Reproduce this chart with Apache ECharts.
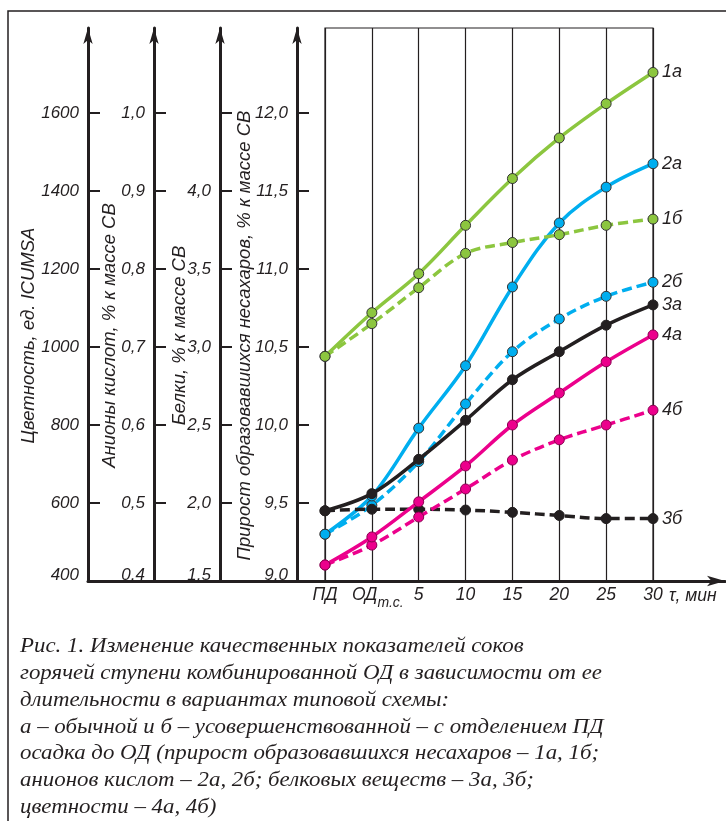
<!DOCTYPE html>
<html><head><meta charset="utf-8">
<script src="https://cdn.jsdelivr.net/npm/echarts@6/dist/echarts.min.js"></script>
<style>html,body{margin:0;padding:0;background:#fff}#c{width:726px;height:821px}</style>
</head><body><div id="c"></div>
<script>
// ---- data ----
const categories = ['ПД', 'ОД', '5', '10', '15', '20', '25', '30'];
// прирост образовавшихся несахаров, % к массе СВ
const s1a = [10.44, 10.72, 10.97, 11.28, 11.58, 11.84, 12.06, 12.26];
const s1b = [10.44, 10.65, 10.88, 11.10, 11.17, 11.22, 11.28, 11.32];
// анионы кислот, % к массе СВ
const s2a = [0.460, 0.509, 0.596, 0.676, 0.777, 0.859, 0.905, 0.935];
const s2b = [0.460, 0.497, 0.553, 0.627, 0.694, 0.736, 0.765, 0.783];
// белки, % к массе СВ
const s3a = [1.95, 2.06, 2.28, 2.53, 2.79, 2.97, 3.14, 3.27];
const s3b = [1.95, 1.96, 1.96, 1.955, 1.94, 1.92, 1.90, 1.90];
// цветность, ед. ICUMSA
const s4a = [441, 513, 603, 695, 800, 882, 962, 1031];
const s4b = [441, 492, 564, 636, 710, 762, 800, 838];
// tick labels
const colorTicks = [400, 600, 800, 1000, 1200, 1400, 1600];
const anionTicks = [0.4, 0.5, 0.6, 0.7, 0.8, 0.9, 1.0];
const proteinTicks = [1.5, 2.0, 2.5, 3.0, 3.5, 4.0, 4.5];
const proteinLabels = [1.5, 2.0, 2.5, 3.0, 3.5, 4.0];
const nonsugarTicks = [9.0, 9.5, 10.0, 10.5, 11.0, 11.5, 12.0];
const captionLines = [
  'Рис. 1. Изменение качественных показателей соков',
  'горячей ступени комбинированной ОД в зависимости от ее',
  'длительности в вариантах типовой схемы:',
  'а – обычной и б – усовершенствованной – с отделением ПД',
  'осадка до ОД (прирост образовавшихся несахаров – 1а, 1б;',
  'анионов кислот – 2а, 2б; белковых веществ – 3а, 3б;',
  'цветности – 4а, 4б)'
];

// ---- styles ----
const F = '"Liberation Sans", Arial, sans-serif';
const INK = '#231f20';
const GREEN = '#8cc63f', BLUE = '#00aeef', BLACK = '#231f20', MAG = '#ec008c';

function fmt(dec) {
  return function (v) { return dec ? v.toFixed(1).replace('.', ',') : String(v); };
}
function yAx(o) {
  const f = fmt(o.dec);
  return {
    type: 'value', gridIndex: 0, position: 'left', offset: o.offset,
    min: o.min, max: o.max, interval: o.interval,
    name: o.name, nameLocation: 'middle', nameGap: o.gap, nameRotate: 90, nameMoveOverlap: false,
    nameTextStyle: { fontFamily: F, fontStyle: 'italic', fontSize: 18.5, color: INK, padding: [0, 62, 0, 0] },
    axisLine: { show: true, onZero: false, lineStyle: { color: INK, width: 3 },
      symbol: ['none', 'arrow'], symbolSize: [7, 16], symbolOffset: [0, 0] },
    axisTick: { show: true, inside: true, length: 12, lineStyle: { color: INK, width: 2 }, customValues: o.ticks },
    axisLabel: {
      show: true, margin: 9, customValues: o.labels,
      fontFamily: F, fontStyle: 'italic', fontSize: 17, color: INK,
      formatter: function (v) { const s = f(v); return v === o.min ? '{b|' + s + '}' : s; },
      rich: { b: { fontFamily: F, fontStyle: 'italic', fontSize: 17, color: INK, padding: [0, 0, 12, 0] } }
    },
    splitLine: { show: false }
  };
}
function ser(name, data, yi, color, dashed, border, z) {
  return {
    name: name, type: 'line', xAxisIndex: 0, yAxisIndex: yi, data: data,
    smooth: 0.35, symbol: 'circle', symbolSize: 10, z: z,
    lineStyle: { color: color, width: 3.5, type: dashed ? [10, 5] : 'solid' },
    itemStyle: { color: color, borderColor: border, borderWidth: 1 },
    endLabel: { show: true, formatter: name, distance: 9, fontFamily: F, fontStyle: 'italic', fontSize: 18, color: INK },
    emphasis: { disabled: true }, animation: false
  };
}

const chart = echarts.init(document.getElementById('c'), null, { renderer: 'canvas' });
chart.setOption({
  backgroundColor: '#fff',
  animation: false,
  grid: [
    { left: 325, right: 73, top: 28, bottom: 240, show: true, borderColor: INK, borderWidth: 1.2, backgroundColor: 'transparent', outerBoundsMode: 'none' },
    { left: 88, right: 1, top: 28, bottom: 240, show: false, outerBoundsMode: 'none' }
  ],
  xAxis: [
    {
      type: 'category', gridIndex: 0, data: categories, boundaryGap: false,
      axisLine: { show: false }, axisTick: { show: false },
      splitLine: { show: true, interval: 0, lineStyle: { color: INK, width: 1.2 } },
      axisLabel: {
        interval: 0, margin: 5, fontFamily: F, fontStyle: 'italic', fontSize: 17.5, color: INK,
        formatter: function (v) { return v === 'ОД' ? '{m|ОД}{s|т.с.}' : v; },
        rich: {
          m: { fontFamily: F, fontStyle: 'italic', fontSize: 17.5, color: INK, verticalAlign: 'top', padding: [0, 0, 0, 12] },
          s: { fontFamily: F, fontStyle: 'italic', fontSize: 14, color: INK, verticalAlign: 'top', padding: [10, 0, 0, 0] }
        }
      },
      name: 'τ, мин', nameLocation: 'end', nameGap: 16,
      nameTextStyle: { fontFamily: F, fontStyle: 'italic', fontSize: 17.5, color: INK, verticalAlign: 'top', padding: [6, 0, 0, 0] }
    },
    {
      type: 'value', gridIndex: 1, min: 0, max: 1,
      axisLine: { show: true, onZero: false, lineStyle: { color: INK, width: 3 },
        symbol: ['none', 'arrow'], symbolSize: [8, 18], symbolOffset: [0, 0] },
      axisTick: { show: false }, axisLabel: { show: false }, splitLine: { show: false }
    }
  ],
  yAxis: [
    yAx({ name: 'Цветность, ед. ICUMSA', offset: 237, min: 400, max: 1818, interval: 200, ticks: colorTicks, labels: colorTicks, dec: false, gap: 50 }),
    yAx({ name: 'Анионы кислот, % к массе СВ', offset: 171, min: 0.4, max: 1.109, interval: 0.1, ticks: anionTicks, labels: anionTicks, dec: true, gap: 35 }),
    yAx({ name: 'Белки, % к массе СВ', offset: 105, min: 1.5, max: 5.045, interval: 0.5, ticks: proteinTicks, labels: proteinLabels, dec: true, gap: 31 }),
    yAx({ name: 'Прирост образовавшихся несахаров, % к массе СВ', offset: 28, min: 9.0, max: 12.545, interval: 0.5, ticks: nonsugarTicks, labels: nonsugarTicks, dec: true, gap: 43 }),
    { type: 'value', gridIndex: 1, show: false, min: 0, max: 1 }
  ],
  series: [
    ser('2б', s2b, 1, BLUE, true, '#333', 3),
    ser('2а', s2a, 1, BLUE, false, '#333', 3),
    ser('1б', s1b, 3, GREEN, true, '#333', 3),
    ser('1а', s1a, 3, GREEN, false, '#333', 3),
    ser('3б', s3b, 2, BLACK, true, BLACK, 4),
    ser('3а', s3a, 2, BLACK, false, BLACK, 4),
    ser('4б', s4b, 0, MAG, true, '#8a0050', 5),
    ser('4а', s4a, 0, MAG, false, '#8a0050', 5)
  ],
  graphic: [
    { type: 'rect', silent: true, shape: { x: 8, y: 11, width: 760, height: 860 },
      style: { fill: 'none', stroke: INK, lineWidth: 1.5 } },
    { type: 'text', silent: true, x: 20, y: 633, scaleX: 1.04,
      style: { text: captionLines.join('\n'), font: 'italic 22px "Liberation Serif", "Times New Roman", serif',
        lineHeight: 26.8, fill: INK, textVerticalAlign: 'top', verticalAlign: 'top' } }
  ]
});
</script>
</body></html>
